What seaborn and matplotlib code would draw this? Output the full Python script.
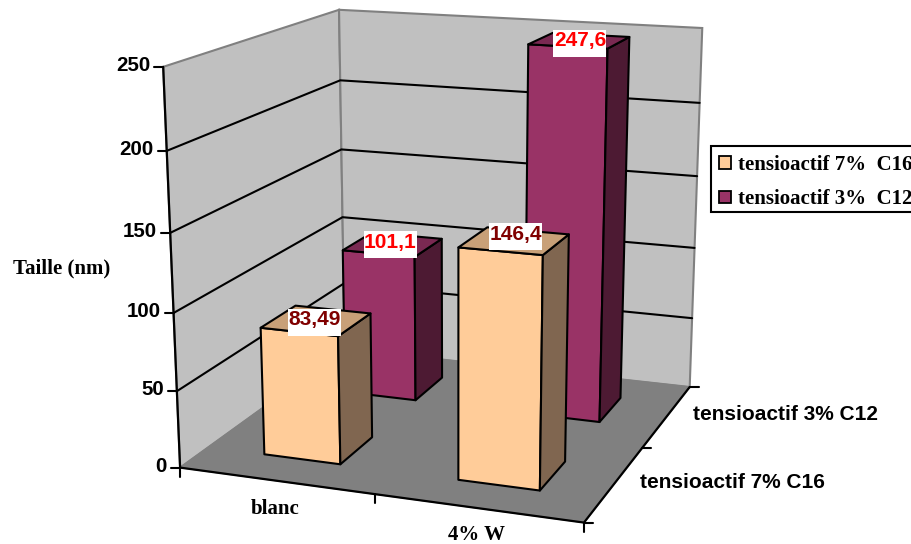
import numpy as np
import seaborn as sns
import matplotlib.pyplot as plt
from matplotlib.patches import Patch, Polygon, Rectangle

# Daten
categories = ['blanc', '4% W']
series = ['tensioactif 7% C16', 'tensioactif 3% C12']
legend_labels = ['tensioactif 7%  C16', 'tensioactif 3%  C12']
val_7 = [83.49, 146.4]
val_3 = [101.1, 247.6]
labels_7 = ['83,49', '146,4']
labels_3 = ['101,1', '247,6']
y_ticks = [0, 50, 100, 150, 200, 250]

# Farben: Front, Seite, Deckel
col_7 = ['#FFCC99', '#806650', '#C8A078']
col_3 = ['#993366', '#4D1A33', '#7A2952']
txt_7 = '#800000'
txt_3 = '#FF0000'

half_w = 0.2
half_d = 0.2

sns.set_theme(style='white')
plt.rcParams['font.family'] = ['Liberation Sans', 'DejaVu Sans']

# Kamera aus den Ecken des Rahmens (x, y, z -> Pixel)
frame = [((0, 0, 0), (180, 467.5)), ((2, 0, 0), (584, 522.7)),
         ((2, 2, 0), (690, 387)), ((0, 2, 0), (345, 349)),
         ((0, 0, 250), (163.5, 67)), ((0, 2, 250), (339, 10)),
         ((2, 2, 250), (703, 28)), ((0, 0, 200), (166.5, 150.7)),
         ((0, 2, 200), (340, 80)), ((2, 2, 200), (699, 103)),
         ((2, 2, 50), (691.7, 318))]
A = []
for (x, y, z), (u, v) in frame:
    z = z / 100
    A.append([x, y, z, 1, 0, 0, 0, 0, -u * x, -u * y, -u * z, -u])
    A.append([0, 0, 0, 0, x, y, z, 1, -v * x, -v * y, -v * z, -v])
P = np.linalg.svd(np.array(A))[2][-1].reshape(3, 4)


def proj(x, y, z):
    p = P @ np.array([x, y, z / 100, 1])
    return p[0] / p[2], p[1] / p[2]


def flaeche(ax, pts, **kw):
    ax.add_patch(Polygon([proj(*q) for q in pts], closed=True, **kw))


def saeule(ax, i, j, wert, cols, z):
    x0, x1 = i + 0.5 - half_w, i + 0.5 + half_w
    y0, y1 = j + 0.5 - half_d, j + 0.5 + half_d
    kw = dict(edgecolor='black', linewidth=1.5, joinstyle='round', zorder=z)
    flaeche(ax, [(x0, y0, 0), (x1, y0, 0), (x1, y0, wert), (x0, y0, wert)], facecolor=cols[0], **kw)
    flaeche(ax, [(x1, y0, 0), (x1, y1, 0), (x1, y1, wert), (x1, y0, wert)], facecolor=cols[1], **kw)
    flaeche(ax, [(x0, y0, wert), (x1, y0, wert), (x1, y1, wert), (x0, y1, wert)], facecolor=cols[2], **kw)


fig = plt.figure(figsize=(9.12, 5.44), dpi=100)
ax = fig.add_axes([0, 0, 1, 1])
ax.set_xlim(0, 912)
ax.set_ylim(544, 0)
ax.axis('off')

# Waende und Boden
grau = '#808080'
flaeche(ax, [(0, 0, 0), (0, 2, 0), (0, 2, 250), (0, 0, 250)], facecolor='#C0C0C0', edgecolor=grau, linewidth=1.5, zorder=1)
flaeche(ax, [(0, 2, 0), (2, 2, 0), (2, 2, 250), (0, 2, 250)], facecolor='#C0C0C0', edgecolor=grau, linewidth=1.5, zorder=1)
flaeche(ax, [(0, 0, 0), (2, 0, 0), (2, 2, 0), (0, 2, 0)], facecolor=grau, edgecolor=grau, linewidth=1, zorder=1)

# Gitter
for t in y_ticks[1:-1]:
    ax.plot(*zip(proj(0, 0, t), proj(0, 2, t), proj(2, 2, t)), color='black', lw=1.5, zorder=2)

# Achsen
ax.plot(*zip(proj(0, 0, 250), proj(0, 0, 0), proj(2, 0, 0), proj(2, 2, 0)), color='black', lw=1.6, zorder=2)
for t in y_ticks:
    u, v = proj(0, 0, t)
    ax.plot([u - 9, u], [v, v], color='black', lw=1.5, zorder=2)
    ax.text(u - 13, v - 1.5, str(t), ha='right', va='center', fontsize=14.8, fontweight='bold', color='black')
for i in range(3):
    u, v = proj(i, 0, 0)
    ax.plot([u, u], [v, v + 9], color='black', lw=1.5, zorder=2)
    u, v = proj(2, i, 0)
    ax.plot([u, u + 9], [v, v], color='black', lw=1.5, zorder=2)

# Saeulen, hinten zuerst
for i in range(2):
    saeule(ax, i, 1, val_3[i], col_3, 3)
for i in range(2):
    saeule(ax, i, 0, val_7[i], col_7, 4)

# Werte: weisser Kasten mit Text im oberen Teil
versatz = {(0, 0): (-1.5, 1.5), (1, 0): (1.5, -4), (0, 1): (-2.5, 0.5), (1, 1): (0.5, 2.5)}
for j, (vals, labs, c) in enumerate([(val_7, labels_7, txt_7), (val_3, labels_3, txt_3)]):
    for i in range(2):
        u, v = proj(i + 0.5, j + 0.5, vals[i])
        du, dv = versatz[(i, j)]
        u, v = u + du, v + dv
        ax.add_patch(Rectangle((u - 26.5, v - 13.5), 53, 27, facecolor='white', edgecolor='none', zorder=10))
        ax.text(u, v - 2.5, labs[i], ha='center', va='center', fontsize=15, fontweight='bold', color=c, zorder=11)

# Beschriftung
serif = ['Liberation Serif', 'DejaVu Serif']
ax.text(13, 268, 'Taille (nm)', family=serif, fontsize=15, fontweight='bold', color='black', va='center')
ax.text(275, 509, categories[0], family=serif, fontsize=15, fontweight='bold', color='black', ha='center', va='center')
ax.text(477, 535, categories[1], family=serif, fontsize=15, fontweight='bold', color='black', ha='center', va='center')
ax.text(693, 414, series[1], fontsize=15, fontweight='bold', color='black', va='center')
ax.text(640, 482, series[0], fontsize=15, fontweight='bold', color='black', va='center')

# Legende: Rahmen laeuft ueber den Bildrand hinaus
ax.add_patch(Rectangle((711, 146), 230, 66, facecolor='white', edgecolor='black', linewidth=1.5, zorder=5))
griffe = [Patch(facecolor=col_7[0], edgecolor='black', linewidth=1.3),
          Patch(facecolor=col_3[0], edgecolor='black', linewidth=1.3)]
leg = ax.legend(griffe, legend_labels, loc='upper left', bbox_to_anchor=(719, 155), bbox_transform=ax.transData,
                frameon=False, borderaxespad=0, handlelength=0.58, handleheight=0.53, handletextpad=0.34,
                labelspacing=0.68, borderpad=0, labelcolor='black',
                prop=dict(family=serif, size=15, weight='bold'))
leg.set_zorder(6)

fig.savefig('out.png', dpi=100)
